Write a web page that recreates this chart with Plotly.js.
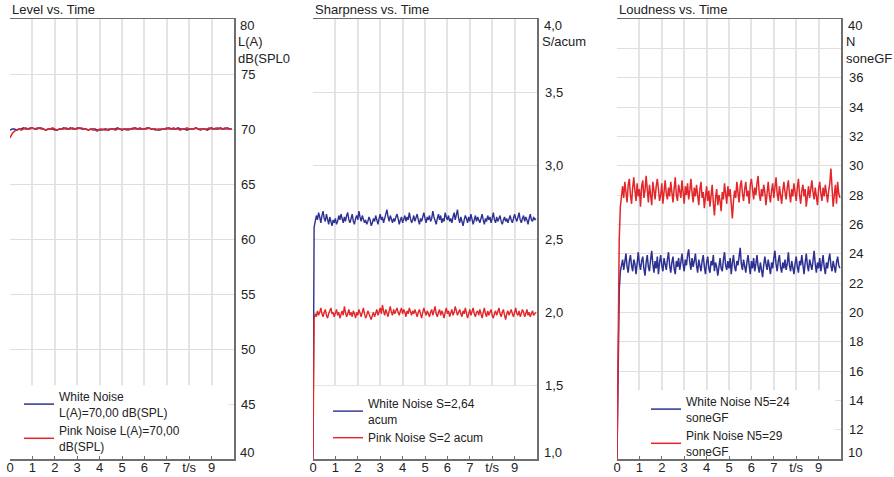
<!DOCTYPE html>
<html>
<head>
<meta charset="utf-8">
<script src="https://cdn.plot.ly/plotly-3.0.1.min.js"></script>
<style>html,body{margin:0;padding:0;background:#fff;}#chart{width:894px;height:477px;}</style>
</head>
<body>
<div id="chart"></div>
<script>
// ---------- data ----------
const timeStart = 0;
const levelStep = 0.1;   // s between level samples
const fineStep = 0.05;   // s between sharpness / loudness samples

const xTickVals = [0,1,2,3,4,5,6,7,8,9];
const xTickText = ['0','1','2','3','4','5','6','7','t/s','9'];

const levelTickVals = [40,45,50,55,60,65,70,75,80];
const levelTickText = ['40','45','50','55','60','65','70','75','80'];
const sharpTickVals = [1.0,1.5,2.0,2.5,3.0,3.5,4.0];
const sharpTickText = ['1,0','1,5','2,0','2,5','3,0','3,5','4,0'];
const loudTickVals = [10,12,14,16,18,20,22,24,26,28,30,32,34,36,38,40];
const loudTickText = ['10','12','14','16','18','20','22','24','26','28','30','32','34','36','','40'];

const levelWhite = [69.9,70.0,70.0,69.9,70.0,70.0,70.1,70.0,70.0,70.1,70.1,70.0,70.0,70.1,70.1,70.0,69.9,70.0,70.0,70.0,
69.9,69.9,70.0,70.0,70.1,70.0,70.0,70.1,70.0,70.0,70.1,70.1,70.0,70.0,70.0,69.9,70.0,70.0,70.0,69.9,
69.9,69.9,70.0,70.0,69.9,70.0,70.0,70.0,70.1,70.0,69.9,70.0,70.0,70.0,70.0,70.0,70.1,70.0,70.0,70.0,
70.0,70.1,70.1,70.0,70.0,70.0,69.9,69.9,70.0,70.0,70.0,70.1,70.0,70.0,70.0,70.1,70.0,70.0,70.0,69.9,
70.0,70.0,70.0,70.1,70.0,70.0,70.0,70.0,69.9,70.0,70.1,70.0,70.0,70.0,70.1,70.0,70.0,70.1,70.0,70.0];
const levelPink = [69.2,69.6,69.8,69.9,70.0,69.9,70.0,70.1,70.0,70.0,70.1,70.0,70.1,70.1,70.0,70.0,69.9,70.0,70.0,70.1,
70.0,69.9,70.0,70.0,70.0,70.1,70.0,70.0,70.1,70.0,70.0,70.1,70.1,70.0,70.0,69.9,70.0,69.9,69.9,69.8,
70.0,70.0,69.9,69.9,70.0,70.0,70.0,69.9,70.0,70.0,70.0,70.0,69.9,69.9,70.0,70.1,70.0,70.0,70.1,70.0,
70.0,70.0,70.1,70.0,70.0,69.9,70.0,70.0,70.0,70.0,70.1,70.0,70.0,70.1,70.0,70.0,69.9,70.0,70.0,70.1,
70.0,70.0,70.0,70.1,70.0,69.9,70.0,70.0,70.0,70.1,70.0,70.0,70.1,70.1,70.0,70.0,70.1,70.0,70.0,70.0];

const sharpWhite = [1.00,2.58,2.62,2.66,2.63,2.68,2.65,2.61,2.66,2.69,2.64,2.62,2.67,2.63,2.60,2.65,2.62,2.59,2.63,2.61,
2.64,2.60,2.62,2.66,2.63,2.67,2.64,2.61,2.65,2.62,2.66,2.68,2.63,2.61,2.64,2.67,2.62,2.60,2.64,2.66,
2.63,2.69,2.65,2.62,2.66,2.64,2.61,2.63,2.60,2.62,2.65,2.63,2.59,2.61,2.64,2.62,2.66,2.63,2.60,2.64,
2.67,2.63,2.65,2.61,2.64,2.68,2.70,2.65,2.62,2.66,2.63,2.61,2.64,2.62,2.65,2.67,2.64,2.60,2.63,2.65,
2.61,2.64,2.66,2.62,2.65,2.63,2.68,2.64,2.61,2.63,2.66,2.62,2.64,2.67,2.63,2.60,2.64,2.62,2.65,2.68,
2.64,2.61,2.65,2.63,2.66,2.62,2.64,2.69,2.65,2.62,2.60,2.64,2.67,2.63,2.66,2.61,2.64,2.62,2.68,2.65,
2.63,2.66,2.62,2.64,2.61,2.65,2.68,2.63,2.66,2.70,2.64,2.61,2.65,2.62,2.59,2.63,2.66,2.64,2.61,2.65,
2.62,2.67,2.64,2.60,2.63,2.66,2.62,2.65,2.63,2.61,2.64,2.67,2.63,2.60,2.64,2.62,2.66,2.63,2.65,2.61,
2.64,2.68,2.63,2.61,2.65,2.62,2.64,2.66,2.62,2.60,2.63,2.65,2.62,2.64,2.61,2.63,2.66,2.63,2.61,2.64,
2.67,2.64,2.62,2.65,2.68,2.63,2.61,2.64,2.66,2.62,2.65,2.63,2.60,2.64,2.67,2.63,2.62,2.65,2.63,2.64];
const sharpPink = [1.00,1.96,1.99,1.97,2.01,1.98,2.00,2.03,1.99,1.97,2.00,2.02,1.98,1.96,1.99,2.01,2.03,1.99,2.00,1.97,
1.99,2.02,1.98,2.00,1.96,1.99,2.01,1.98,2.04,2.00,1.97,1.99,2.02,1.98,2.00,1.97,2.01,1.99,1.96,2.00,
1.98,2.02,1.99,1.97,2.00,2.03,1.99,1.96,1.98,2.01,1.99,1.97,1.95,1.98,2.00,1.97,1.99,2.02,1.98,2.00,
2.03,1.99,2.05,2.01,1.98,2.02,2.00,1.97,2.01,2.04,2.00,1.98,2.02,1.99,2.01,2.03,2.00,1.98,2.01,2.03,
1.99,2.02,2.00,1.97,2.01,1.99,2.03,2.00,1.98,2.01,1.99,2.02,2.00,1.97,2.00,2.02,1.99,1.96,2.00,2.03,
2.00,1.98,2.01,1.99,1.97,2.00,2.02,1.98,2.01,2.04,1.99,1.97,2.00,2.02,1.98,2.01,1.99,1.96,2.00,2.03,
1.99,2.01,1.97,2.00,2.02,1.98,2.00,2.04,2.01,1.98,2.00,2.02,1.99,1.97,2.01,1.99,2.03,2.00,1.96,1.99,
2.02,1.98,2.00,2.03,1.99,1.97,2.00,2.01,1.98,2.02,1.99,1.96,2.00,2.03,1.99,1.97,2.01,1.98,2.00,2.02,
1.98,1.96,1.99,2.01,1.98,2.00,2.03,1.99,1.97,2.00,2.02,1.98,1.95,1.99,2.01,1.98,2.00,2.02,1.99,1.97,
2.00,2.03,1.99,1.98,2.01,1.97,1.99,2.02,2.00,1.97,1.99,2.02,1.98,2.00,1.97,1.99,2.01,1.98,1.99,2.00];

const loudWhite = [10.0,16.0,21.5,22.8,23.2,23.6,22.9,23.4,24.0,23.1,22.7,23.5,23.9,23.2,22.8,23.6,23.3,22.6,23.7,24.1,
23.3,22.9,23.5,23.8,23.0,22.5,23.4,23.9,23.1,22.8,23.6,24.2,23.3,22.7,23.5,23.0,23.8,22.6,23.4,23.9,
23.2,22.8,23.7,23.3,22.9,23.6,24.1,23.2,22.7,23.4,23.8,23.0,22.6,23.5,23.1,23.7,22.9,23.4,24.0,23.3,
22.8,23.6,23.2,23.9,24.3,23.4,22.9,23.7,23.1,23.5,24.0,23.2,22.7,23.6,23.3,22.8,23.5,23.9,23.1,22.6,
23.4,23.8,23.0,22.7,23.5,23.2,23.9,22.8,23.4,23.1,22.5,23.3,23.7,23.0,22.8,23.6,24.1,23.2,22.9,23.5,
23.0,23.7,22.6,23.4,23.9,23.1,22.8,23.5,23.2,23.8,24.4,23.3,22.9,23.6,23.1,22.7,23.4,23.9,23.2,22.6,
23.5,23.0,23.7,22.8,23.3,23.9,23.1,22.7,23.4,23.0,22.4,23.2,23.8,23.3,22.9,23.6,23.1,22.6,23.4,23.0,
23.7,24.2,23.3,22.8,23.5,23.9,23.1,22.7,23.4,23.0,23.6,22.9,23.3,24.1,23.2,22.8,23.5,23.0,22.6,23.3,
23.8,23.1,22.7,23.5,23.2,23.9,23.0,22.6,23.4,24.0,23.2,22.8,23.6,23.1,22.9,23.5,24.2,23.3,22.7,23.4,
23.0,23.7,22.8,23.3,23.9,23.1,22.6,23.4,23.0,23.6,24.0,23.2,22.8,23.5,23.1,22.7,23.4,23.8,23.2,23.0];
const loudPink = [10.0,18.5,25.0,27.2,27.9,28.6,27.8,28.9,28.2,27.5,28.7,29.1,28.0,27.4,28.5,29.2,28.3,27.6,28.8,27.9,
28.4,27.2,28.6,29.0,27.8,28.3,29.3,28.1,27.5,28.7,28.0,27.3,28.9,28.2,27.7,28.6,29.1,28.4,27.6,28.0,
28.8,27.4,28.3,29.0,28.1,27.7,28.5,27.9,28.9,28.2,27.5,28.4,29.2,28.0,27.6,28.7,28.3,27.8,29.0,28.1,
27.4,28.6,28.0,28.8,27.7,28.3,29.1,28.2,27.5,28.5,27.9,28.7,28.0,27.3,28.4,28.9,27.8,28.2,27.1,28.0,
28.6,27.6,28.3,27.2,28.1,28.7,27.5,26.6,27.8,28.4,27.3,28.0,27.6,26.9,28.2,27.7,28.8,28.1,27.4,28.6,
27.9,28.4,27.0,26.4,27.6,28.3,27.8,28.9,28.2,27.5,28.6,29.0,28.1,27.6,28.4,28.9,27.9,28.3,27.4,28.7,
29.1,28.2,27.7,28.5,28.0,28.8,29.3,28.1,27.6,28.4,27.9,28.7,28.2,27.3,28.5,28.9,28.0,27.5,28.3,28.8,
27.8,28.4,29.2,28.1,27.6,28.6,28.0,27.4,28.3,28.9,28.2,27.7,28.5,29.0,28.1,27.5,28.4,27.9,28.8,28.2,
27.6,28.5,29.1,28.0,27.4,28.3,28.7,27.9,28.4,27.2,28.1,28.6,27.8,28.3,29.0,28.2,27.7,28.5,28.0,27.3,
28.4,28.9,28.1,27.6,28.5,27.9,28.7,28.2,27.5,28.3,28.8,29.8,28.6,27.2,28.0,28.7,27.4,28.9,28.1,27.8];

const panelTitles = ['Level vs. Time','Sharpness vs. Time','Loudness vs. Time'];
const unitLabels = ['L(A)<br>dB(SPL0','S/acum','N<br>soneGF'];
const legendNames = [
  ['White Noise<br>L(A)=70,00 dB(SPL)','Pink Noise L(A)=70,00<br>dB(SPL)'],
  ['White Noise S=2,64<br>acum','Pink Noise S=2 acum'],
  ['White Noise N5=24<br>soneGF','Pink Noise N5=29<br>soneGF']
];

// ---------- style ----------
const FONT = 'Liberation Sans, Arial, Helvetica, sans-serif';
const BLUE = '#2d3191';
const RED = '#e2262a';
const W = 894, H = 477;
const px = v => v / W;
const yDom = [1 - 459 / H, 1 - 19 / H];
const xDoms = [[px(10), px(234)], [px(313), px(537)], [px(617), px(841)]];

function trace(y, step, color, name, i, width) {
  const s = i === 0 ? '' : String(i + 1);
  return {
    type: 'scatter', mode: 'lines', y: y, x0: timeStart, dx: step,
    xaxis: 'x' + s, yaxis: 'y' + s, legend: 'legend' + s,
    name: name, line: {color: color, width: width},
    hoverinfo: 'skip'
  };
}

const data = [
  trace(levelWhite, levelStep, BLUE, legendNames[0][0], 0, 1.5),
  trace(levelPink, levelStep, RED, legendNames[0][1], 0, 1.5),
  trace(sharpWhite, fineStep, BLUE, legendNames[1][0], 1, 1.4),
  trace(sharpPink, fineStep, RED, legendNames[1][1], 1, 1.4),
  trace(loudWhite, fineStep, BLUE, legendNames[2][0], 2, 1.5),
  trace(loudPink, fineStep, RED, legendNames[2][1], 2, 1.5)
];

const layout = {
  width: W, height: H,
  margin: {l: 0, r: 0, t: 0, b: 0},
  paper_bgcolor: '#fff', plot_bgcolor: '#fff',
  font: {family: FONT, size: 13, color: '#222'},
  shapes: [], annotations: []
};

const yTicks = [[levelTickVals, levelTickText, [40, 80]], [sharpTickVals, sharpTickText, [1, 4]], [loudTickVals, loudTickText, [10, 40]]];
const legendX = [19, 328, 646];
const legendY = [461, 453, 466];
const coverX1 = [9.75, 9.8, 9.75];      // right edge of white legend backdrop (x units)
const coverY1 = [46.7, 1.5, 14.7];      // top edge of white legend backdrop (y units)
const labelGap = [5, 6, 6];

for (let i = 0; i < 3; i++) {
  const s = i === 0 ? '' : String(i + 1);
  const vals = yTicks[i][0], texts = yTicks[i][1].slice();
  const endLo = texts[0], endHi = texts[texts.length - 1];
  texts[0] = ''; texts[texts.length - 1] = '';
  layout['xaxis' + s] = {
    domain: xDoms[i], anchor: 'y' + s, range: [0, 10],
    tickmode: 'array', tickvals: xTickVals, ticktext: xTickText,
    showgrid: true, gridcolor: '#e4e4e4', gridwidth: 2,
    showline: true, linecolor: '#6e6e6e', linewidth: 1.5, mirror: true,
    ticks: 'inside', ticklen: 3, tickcolor: '#6e6e6e', tickwidth: 1,
    ticklabelstandoff: -4,
    zeroline: false, tickfont: {size: 13, color: '#222'}, fixedrange: true
  };
  layout['yaxis' + s] = {
    domain: yDom, anchor: 'x' + s, side: 'right', range: yTicks[i][2],
    tickmode: 'array', tickvals: vals, ticktext: texts,
    showgrid: true, gridcolor: i === 2 ? '#e6dcdc' : '#dedede', gridwidth: 1,
    showline: true, linecolor: '#6e6e6e', linewidth: 1.5, mirror: false,
    ticks: '', ticklabelstandoff: labelGap[i] - 2,
    zeroline: false, tickfont: {size: 13, color: '#222'}, fixedrange: true
  };
  layout['legend' + s] = {
    x: px(legendX[i]), xanchor: 'left', y: (H - legendY[i]) / H, yanchor: 'bottom',
    bgcolor: 'rgba(0,0,0,0)', borderwidth: 0, tracegroupgap: 0, itemwidth: 30,
    font: {family: FONT, size: 12, color: '#222'}
  };
  // white legend backdrop covering the gridlines
  layout.shapes.push({
    type: 'rect', layer: 'between', xref: 'x' + s, yref: 'y' + s,
    x0: 0, x1: coverX1[i], y0: yTicks[i][2][0], y1: coverY1[i],
    fillcolor: '#ffffff', line: {width: 0}
  });
  layout.annotations.push({
    text: panelTitles[i], xref: 'x' + s + ' domain', yref: 'y' + s + ' domain',
    x: 0, y: 1, xanchor: 'left', yanchor: 'bottom', yshift: 0, showarrow: false,
    font: {family: FONT, size: 13, color: '#222'}
  });
  layout.annotations.push({
    text: unitLabels[i], xref: 'x' + s + ' domain', yref: 'y' + s + ' domain',
    x: 1, y: 1, xanchor: 'left', yanchor: 'top', xshift: labelGap[i] - 3, yshift: -13, align: 'left', showarrow: false,
    font: {family: FONT, size: 13, color: '#222'}
  });
  // end-of-axis tick labels, nudged inward as in the original
  layout.annotations.push({
    text: endHi, xref: 'x' + s + ' domain', yref: 'y' + s, x: 1, y: vals[vals.length - 1],
    xanchor: 'left', yanchor: 'middle', xshift: labelGap[i] - 1, yshift: -6, showarrow: false,
    font: {family: FONT, size: 13, color: '#222'}
  });
  layout.annotations.push({
    text: endLo, xref: 'x' + s + ' domain', yref: 'y' + s, x: 1, y: vals[0],
    xanchor: 'left', yanchor: 'middle', xshift: labelGap[i] - 1, yshift: 7, showarrow: false,
    font: {family: FONT, size: 13, color: '#222'}
  });
}

Plotly.newPlot('chart', data, layout, {displayModeBar: false, staticPlot: true});
</script>
</body>
</html>
